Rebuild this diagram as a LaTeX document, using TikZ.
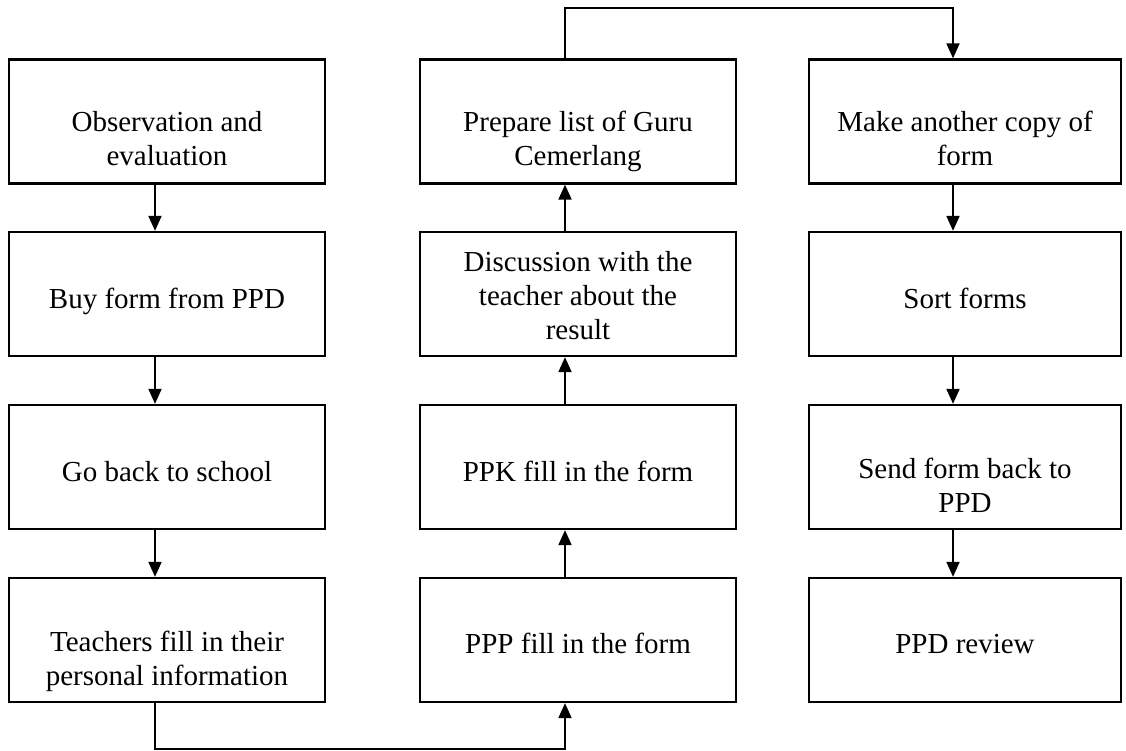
\documentclass[tikz,border=0pt]{standalone}
\usepackage{fontspec}
\setmainfont{Liberation Serif}
\usetikzlibrary{arrows.meta}
\begin{document}
\begin{tikzpicture}[x=1pt,y=-1pt,
  stepbox/.style={draw, line width=2.3pt, minimum width=316pt, minimum height=124pt, inner sep=0pt},
  narrowbox/.style={stepbox, minimum width=312pt},
  boxtext/.style={font=\fontsize{29}{34}\selectfont, align=center, anchor=base, inner sep=0pt},
  conn/.style={line width=1.9pt, -{Triangle[width=13pt,length=15pt]}}]
\useasboundingbox (0,0) rectangle (1126,751);
% column 1
\node[stepbox] (a1) at (167,121.5) {};
\node[stepbox] (a2) at (167,294) {};
\node[stepbox] (a3) at (167,467) {};
\node[stepbox] (a4) at (167,640) {};
% column 2
\node[stepbox] (b1) at (578,121.5) {};
\node[stepbox] (b2) at (578,294) {};
\node[stepbox] (b3) at (578,467) {};
\node[stepbox] (b4) at (578,640) {};
% column 3
\node[narrowbox] (c1) at (965,121.5) {};
\node[narrowbox] (c2) at (965,294) {};
\node[narrowbox] (c3) at (965,467) {};
\node[narrowbox] (c4) at (965,640) {};
% texts (anchor base = baseline of last line)
\node[boxtext] (ta1) at (167,166) {Observation and\\evaluation};
\node[boxtext] (ta2) at (167,308) {Buy form from PPD};
\node[boxtext] (ta3) at (167,481) {Go back to school};
\node[boxtext] (ta4) at (167,685) {Teachers fill in their\\personal information};
\node[boxtext] (tb1) at (578,166) {Prepare list of Guru\\Cemerlang};
\node[boxtext] (tb2) at (578,339) {Discussion with the\\teacher about the\\result};
\node[boxtext] (tb3) at (578,481) {PPK fill in the form};
\node[boxtext] (tb4) at (578,653) {PPP fill in the form};
\node[boxtext] (tc1) at (965,166) {Make another copy of\\form};
\node[boxtext] (tc2) at (965,308) {Sort forms};
\node[boxtext] (tc3) at (965,512) {Send form back to\\PPD};
\node[boxtext] (tc4) at (965,653) {PPD review};
% connectors column 1
\draw[conn] ([xshift=-12pt]a1.south) -- ([xshift=-12pt]a2.north);
\draw[conn] ([xshift=-12pt]a2.south) -- ([xshift=-12pt]a3.north);
\draw[conn] ([xshift=-12pt]a3.south) -- ([xshift=-12pt]a4.north);
% bottom link
\draw[conn] ([xshift=-12pt]a4.south) -- ++(0,46) -| ([xshift=-13pt]b4.south);
% connectors column 2 (upward)
\draw[conn] ([xshift=-13pt]b4.north) -- ([xshift=-13pt]b3.south);
\draw[conn] ([xshift=-13pt]b3.north) -- ([xshift=-13pt]b2.south);
\draw[conn] ([xshift=-13pt]b2.north) -- ([xshift=-13pt]b1.south);
% top link
\draw[conn] ([xshift=-13pt]b1.north) -- ++(0,-50) -| ([xshift=-12pt]c1.north);
% connectors column 3
\draw[conn] ([xshift=-12pt]c1.south) -- ([xshift=-12pt]c2.north);
\draw[conn] ([xshift=-12pt]c2.south) -- ([xshift=-12pt]c3.north);
\draw[conn] ([xshift=-12pt]c3.south) -- ([xshift=-12pt]c4.north);
\end{tikzpicture}
\end{document}
